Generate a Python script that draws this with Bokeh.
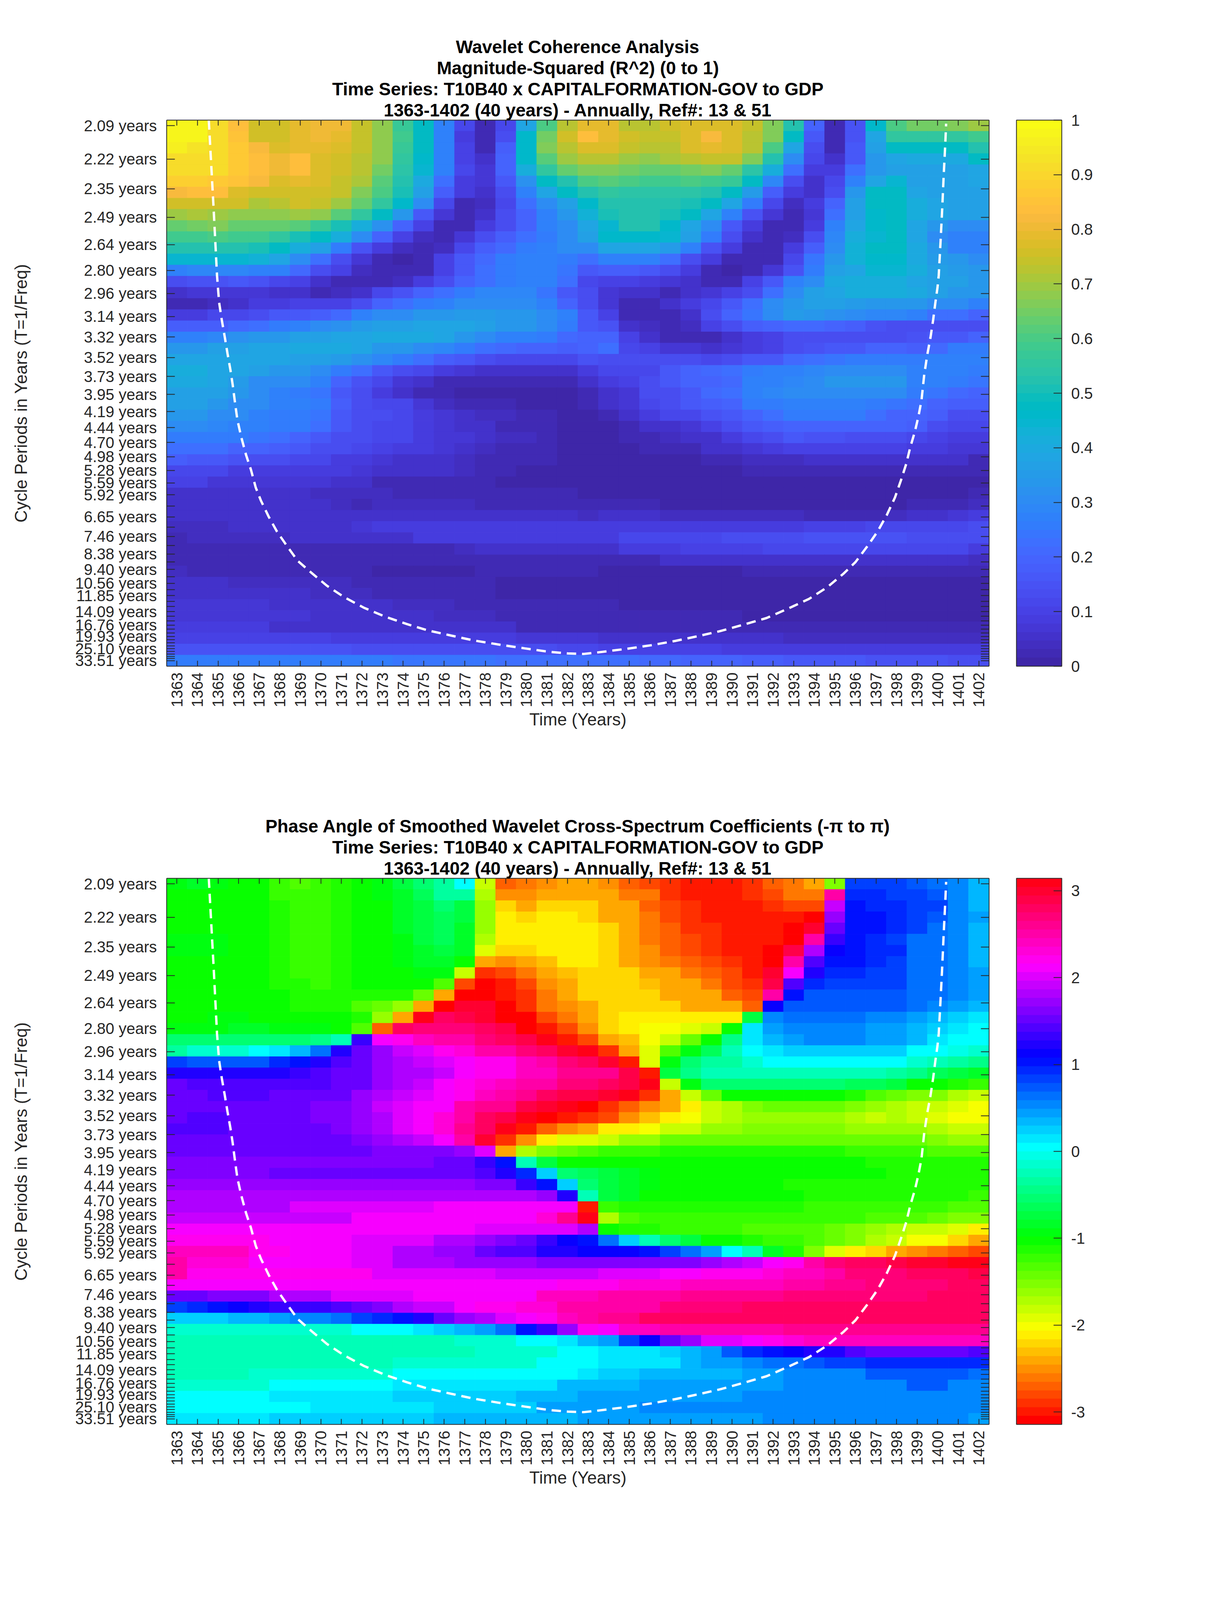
import math
from bokeh.embed import file_html
from bokeh.resources import INLINE
from bokeh.plotting import figure
from bokeh.layouts import column
from bokeh.models import (ColumnDataSource, LinearColorMapper, ColorBar, FixedTicker, LinearAxis,
                          Range1d, Title, AllLabels)
from bokeh.transform import transform

# NOTE: the reference is 3125x6252, but the browser that photographs this page reports a
# 3125x4096 window. The vertical layout is therefore compressed by 4096/6252 so that the whole
# chart stays visible; horizontal positions are those of the reference.

years = list(range(1363, 1403))
periods = [2.09, 2.22, 2.35, 2.49, 2.64, 2.80, 2.96, 3.14, 3.32, 3.52, 3.73, 3.95, 4.19, 4.44, 4.70, 4.98,
           5.28, 5.59, 5.92, 6.27, 6.65, 7.05, 7.46, 7.91, 8.38, 8.88, 9.40, 9.97, 10.56, 11.19, 11.85, 12.56,
           13.30, 14.09, 14.93, 15.82, 16.76, 17.76, 18.81, 19.93, 21.11, 22.37, 23.70, 25.10, 26.60, 28.18,
           29.85, 31.63, 33.51]
labelled_periods = [2.09, 2.22, 2.35, 2.49, 2.64, 2.80, 2.96, 3.14, 3.32, 3.52, 3.73, 3.95, 4.19, 4.44, 4.70,
                    4.98, 5.28, 5.59, 5.92, 6.65, 7.46, 8.38, 9.40, 10.56, 11.85, 14.09, 16.76, 19.93, 25.10, 33.51]

# coherence, in hundredths; one list per row, shortest period first
coh_rows = [
[97,97,91,83,75,75,79,81,80,74,68,57,47,27,11,3,11,38,60,73,79,79,73,72,75,77,78,78,74,66,53,20,3,15,46,60,65,65,67,69],
[97,97,91,85,75,75,79,80,79,74,68,58,47,28,8,3,13,46,65,76,83,79,75,74,74,77,82,78,73,66,47,17,3,15,39,56,56,56,56,58],
[96,93,91,87,82,78,79,79,77,74,68,57,47,28,10,3,18,46,66,73,78,77,74,73,73,77,79,77,72,60,38,13,3,16,37,47,47,47,48,52],
[92,92,91,86,83,81,83,78,76,73,68,56,46,28,10,5,20,46,62,70,72,73,69,68,71,72,74,74,66,52,30,12,5,17,33,38,40,40,40,47],
[91,91,91,87,83,81,83,78,75,72,65,54,44,28,12,7,20,42,55,63,66,67,65,63,63,65,66,64,54,42,22,9,9,22,33,37,36,36,36,38],
[88,88,87,85,82,78,79,78,74,71,62,52,40,22,9,7,17,32,47,53,60,61,60,58,58,60,59,57,47,29,14,5,11,28,39,45,37,37,37,38],
[82,84,84,77,76,75,75,75,74,67,60,50,36,18,8,6,14,27,38,47,53,55,54,54,54,54,53,47,35,18,9,5,14,33,47,47,38,37,36,37],
[76,76,76,75,71,73,75,74,70,63,55,46,30,12,3,4,12,23,30,37,46,52,53,53,53,50,47,39,25,12,4,8,19,36,47,47,42,38,37,37],
[70,71,70,68,68,68,69,68,62,55,47,33,17,7,2,5,13,20,27,33,43,50,53,53,50,48,39,28,15,7,3,7,23,36,46,48,42,38,37,37],
[64,65,66,64,63,63,62,57,51,42,32,19,10,3,3,8,14,20,27,31,38,45,53,53,46,38,30,17,9,3,3,9,27,38,46,47,38,33,30,30],
[58,58,60,59,58,55,51,47,41,30,20,10,4,3,7,14,18,22,26,30,36,46,46,46,45,37,25,13,6,2,4,14,29,42,45,47,38,31,28,28],
[53,53,53,52,50,47,42,36,26,15,9,4,2,4,12,18,21,25,27,30,30,38,39,39,35,28,15,9,3,2,8,18,30,43,47,47,40,33,28,28],
[44,44,45,45,43,38,30,22,13,7,3,1,3,10,16,21,25,28,27,26,23,27,28,27,23,14,8,2,2,3,12,24,33,43,46,46,40,35,33,30],
[28,29,29,29,28,27,21,14,10,4,3,2,3,10,17,22,26,28,28,24,17,18,18,17,14,8,3,1,3,7,15,26,36,38,44,44,41,37,35,33],
[14,15,15,17,15,11,10,6,3,2,2,4,9,13,20,23,26,28,28,22,11,10,10,9,7,5,3,3,10,16,28,31,40,41,42,41,39,37,37,34],
[5,7,7,7,7,6,5,3,4,6,11,15,19,23,26,29,29,29,24,17,13,7,5,5,3,5,7,10,14,23,30,36,38,41,42,42,40,36,34,34],
[2,3,4,5,8,8,10,10,10,13,20,22,26,28,30,31,31,30,27,20,14,7,3,2,5,8,12,17,23,31,34,36,37,35,34,33,33,31,30,28],
[9,9,11,12,14,16,16,18,21,27,30,31,33,34,35,35,34,34,30,27,17,10,3,2,3,6,13,19,24,31,35,34,32,30,29,29,28,22,22,20],
[18,18,18,21,22,25,28,30,32,35,36,37,38,39,39,37,34,33,30,25,17,15,5,4,2,4,10,14,18,20,21,21,20,18,15,13,13,13,13,13],
[28,28,29,32,33,34,37,37,39,39,40,40,40,39,33,30,28,27,26,21,20,20,10,6,2,2,2,6,9,10,13,14,14,14,13,13,15,16,17,20],
[34,34,36,36,38,39,40,40,40,39,34,33,30,29,26,23,21,20,19,18,20,22,12,10,7,7,6,7,9,10,13,15,16,17,19,19,18,21,25,26],
[39,39,39,39,38,38,37,37,35,32,29,25,22,18,16,14,12,12,11,11,15,13,13,13,13,13,12,14,17,17,21,22,24,26,26,26,26,27,27,27],
[41,41,39,38,37,34,33,31,26,22,17,13,11,9,7,6,6,6,5,6,8,11,12,12,16,19,21,22,26,27,28,29,30,30,30,30,28,28,27,26],
[40,40,39,35,31,30,30,28,20,15,11,7,6,3,2,2,2,2,2,3,5,8,10,13,16,19,20,21,27,28,29,30,33,33,33,33,28,28,26,24],
[37,37,36,33,31,27,25,24,16,13,8,5,3,2,1,1,1,1,1,1,3,6,7,13,14,17,21,22,28,29,30,31,30,30,31,31,26,24,21,20],
[36,36,34,31,30,27,27,26,18,14,12,11,7,4,3,2,2,1,1,1,2,5,7,11,13,16,18,20,26,26,27,28,28,27,25,24,22,20,18,18],
[34,34,31,30,28,26,25,24,17,14,13,11,9,7,5,4,4,3,3,1,1,3,5,8,11,12,15,17,20,22,25,26,26,25,22,20,20,18,14,14],
[30,30,29,28,27,26,25,22,17,14,12,11,9,7,5,5,3,3,2,1,1,1,3,5,6,7,10,13,16,18,20,20,20,20,20,19,18,14,11,11],
[26,26,26,25,24,23,20,17,14,13,12,11,9,7,7,5,4,4,2,1,1,1,2,3,4,5,6,9,12,14,16,15,15,14,13,13,12,10,9,8],
[22,22,22,20,19,18,16,14,13,12,10,9,8,7,5,4,3,3,2,1,1,1,1,2,2,2,5,6,7,9,10,10,10,10,10,10,9,8,7,7],
[18,16,16,15,14,13,12,11,9,8,7,6,5,5,4,3,2,2,2,1,1,1,1,1,1,1,3,3,4,4,4,5,5,5,5,5,5,5,5,3],
[11,11,11,9,9,9,8,8,8,7,5,5,5,5,4,3,2,1,1,1,1,1,1,1,1,1,1,1,2,2,2,2,2,2,2,2,2,2,2,2],
[10,10,7,7,7,7,7,7,5,5,3,3,3,3,2,2,1,1,1,1,1,1,1,1,1,1,1,1,1,1,1,1,1,1,1,1,1,1,1,1],
[6,6,6,6,6,6,5,4,4,4,4,3,3,3,3,3,3,3,2,2,1,1,1,1,1,1,1,1,1,1,1,1,1,1,1,1,1,1,1,2],
[5,5,5,5,5,5,5,5,4,3,4,4,4,4,4,3,3,3,3,3,2,2,2,2,1,1,1,1,1,1,1,1,1,1,1,1,2,2,2,4],
[6,6,6,6,6,6,6,6,6,6,6,6,6,6,6,6,6,6,5,5,4,5,5,5,4,4,4,4,4,4,4,3,3,3,3,4,5,6,7,8],
[4,4,4,6,6,6,6,6,6,7,8,8,8,8,8,8,8,8,8,8,8,8,8,8,8,8,8,9,9,9,9,10,10,10,12,12,12,12,12,14],
[2,4,4,4,4,4,5,5,5,5,5,5,8,8,8,8,8,8,9,9,9,9,11,11,11,12,12,13,13,14,14,15,15,15,15,15,14,14,14,14],
[3,3,3,3,3,3,3,3,3,3,3,3,3,3,4,5,5,5,5,5,6,6,8,8,8,10,10,10,10,11,11,11,12,12,12,12,12,12,11,9],
[3,3,3,3,3,3,2,2,2,2,2,2,2,2,2,2,2,2,2,2,2,2,3,3,5,5,5,5,5,5,5,5,5,5,5,5,5,5,5,4],
[4,3,3,3,3,3,3,2,2,2,1,1,1,1,1,2,2,2,2,2,2,1,1,1,1,1,1,1,2,2,2,2,2,2,2,2,2,2,2,2],
[5,5,5,4,4,4,4,4,4,3,3,2,2,2,2,2,1,1,1,1,1,1,1,1,1,1,1,1,1,1,1,1,1,1,1,1,1,1,1,1],
[5,5,5,5,5,5,5,4,4,4,3,3,3,2,2,2,1,1,1,1,1,1,1,1,1,1,1,1,1,1,1,1,1,1,1,1,1,1,1,1],
[7,7,7,7,7,5,5,5,5,5,5,4,4,4,3,3,3,3,2,2,2,3,1,1,1,1,1,1,1,1,1,1,1,1,1,1,1,1,1,1],
[7,7,7,7,7,7,7,5,5,5,5,5,5,4,4,4,3,3,3,3,3,2,2,2,2,2,2,2,1,1,1,1,1,1,1,1,1,1,1,1],
[8,8,8,8,8,6,6,6,6,6,6,5,5,5,5,5,5,3,3,3,3,2,2,2,2,2,2,3,3,3,2,2,2,2,2,2,2,2,2,2],
[10,10,10,10,10,10,10,10,9,9,9,9,9,9,9,9,9,7,7,7,7,6,6,6,6,5,5,5,5,5,4,4,4,4,4,4,4,4,4,4],
[15,15,15,15,15,15,15,15,15,14,14,14,14,14,14,14,13,13,13,12,12,10,10,10,10,10,10,9,9,9,9,9,9,8,8,8,8,8,8,8],
[26,26,26,26,26,26,26,26,25,25,25,24,24,24,24,24,23,23,23,22,22,22,22,21,21,20,19,19,18,18,17,17,16,16,15,15,15,15,14,14],
]

# phase angle, in hundredths of a radian; one list per row, shortest period first
phase_rows = [
[-95,-87,-90,-105,-105,-118,-131,-120,-110,-105,-95,-70,-52,-30,0,-185,-272,-262,-250,-240,-240,-248,-270,-278,-285,-295,-295,-295,-285,-269,-258,-236,-157,79,79,79,70,60,52,39],
[-100,-100,-105,-105,-105,-118,-118,-118,-110,-105,-95,-80,-60,-35,-35,-170,-248,-248,-236,-236,-236,-245,-257,-265,-285,-295,-295,-295,-285,-277,-262,-257,250,90,90,80,80,75,52,39],
[-105,-105,-105,-105,-105,-115,-125,-125,-115,-105,-105,-85,-70,-55,-70,-165,-225,-236,-225,-225,-225,-236,-242,-270,-280,-288,-295,-295,-295,-285,-275,-275,195,100,90,90,80,80,52,39],
[-105,-105,-105,-105,-105,-115,-125,-125,-115,-105,-105,-85,-70,-60,-75,-165,-212,-225,-213,-213,-225,-236,-242,-256,-280,-288,-295,-295,-295,-295,-295,-314,175,105,105,95,80,70,52,45],
[-100,-100,-105,-105,-105,-115,-125,-125,-115,-105,-105,-85,-75,-65,-80,-165,-212,-212,-212,-212,-212,-225,-236,-256,-270,-292,-292,-297,-297,-297,-305,295,157,105,100,95,80,62,52,35],
[-90,-90,-95,-105,-105,-115,-120,-120,-115,-105,-105,-92,-75,-68,-80,-170,-212,-212,-212,-212,-212,-225,-236,-256,-270,-280,-288,-295,-295,-300,-310,250,135,105,90,80,62,62,52,35],
[-90,-90,-95,-100,-105,-115,-120,-120,-115,-105,-105,-95,-80,-70,-80,-195,-225,-225,-213,-213,-212,-225,-236,-250,-270,-280,-288,-297,-297,-305,290,185,115,100,90,90,62,62,52,35],
[-100,-100,-100,-105,-105,-115,-120,-120,-115,-105,-100,-95,-88,-82,-105,-240,-255,-240,-228,-213,-213,-225,-240,-248,-262,-270,-278,-288,-297,-314,255,140,105,100,90,80,62,62,52,35],
[-105,-105,-105,-105,-105,-115,-125,-125,-115,-105,-105,-100,-95,-95,-185,-288,-275,-260,-242,-230,-225,-225,-225,-236,-245,-256,-270,-280,-297,300,209,120,90,90,80,80,62,62,52,40],
[-105,-105,-105,-105,-105,-110,-115,-125,-115,-105,-105,-105,-105,-135,-275,-305,-297,-275,-250,-236,-225,-225,-225,-230,-245,-245,-256,-275,-285,290,145,90,80,80,80,80,62,62,52,42],
[-105,-105,-105,-105,-105,-105,-115,-115,-115,-110,-110,-110,-145,-245,-307,-314,-297,-285,-256,-236,-225,-225,-225,-225,-236,-245,-245,-270,-280,250,100,75,75,70,70,70,62,62,52,42],
[-105,-105,-105,-105,-105,-105,-110,-110,-110,-128,-140,-165,-236,-314,298,298,-305,-285,-265,-250,-236,-225,-225,-225,-225,-236,-236,-245,-270,110,75,70,70,70,70,70,62,57,45,32],
[-100,-100,-95,-95,-100,-105,-105,-105,-105,-115,-160,-245,305,275,288,295,-314,-305,-275,-256,-236,-225,-213,-213,-213,-213,-213,-213,-75,57,62,62,62,62,55,55,45,36,28,18],
[-95,-95,-90,-85,-85,-95,-95,-95,-100,-130,-270,275,270,270,270,275,285,-314,-297,-275,-250,-225,-213,-200,-200,-195,-180,-105,10,40,57,57,57,57,45,45,38,25,18,5],
[-55,-55,-50,-50,-50,-50,-50,-45,-26,135,209,220,236,250,255,270,275,288,310,-300,-275,-245,-228,-205,-180,-140,-105,-40,10,30,42,50,50,50,42,42,32,18,8,0],
[-30,-18,-18,-10,0,15,30,62,120,150,175,190,205,220,230,250,255,270,280,295,314,-288,-245,-195,-135,-90,-60,-26,0,18,28,28,28,28,28,20,5,0,-7,-18],
[80,72,72,72,72,95,105,120,140,150,170,180,190,205,212,220,225,240,255,270,275,295,-300,-195,-95,-50,-30,-30,-15,0,8,8,8,8,8,0,-15,-20,-30,-40],
[125,125,118,118,118,118,130,138,148,157,172,180,185,190,209,220,225,236,245,260,265,265,288,-300,-70,-40,-26,-26,-20,-20,-20,-20,-20,-20,-20,-30,-45,-60,-75,-80],
[150,142,142,142,142,142,142,145,150,155,170,178,192,209,220,230,236,250,252,270,270,280,288,314,-185,-90,-55,-55,-55,-55,-55,-55,-55,-60,-68,-72,-105,-105,-110,-125],
[150,150,142,142,142,150,150,150,157,170,178,192,200,209,225,240,250,265,280,290,290,300,314,-285,-245,-180,-138,-105,-105,-105,-105,-105,-105,-115,-130,-138,-150,-157,-170,-178],
[155,155,155,155,155,155,155,160,160,170,195,200,209,215,255,260,265,285,295,310,-305,-288,-268,-255,-236,-209,-180,-168,-150,-142,-140,-140,-140,-148,-162,-170,-180,-185,-195,-200],
[155,145,145,155,155,155,155,160,162,170,182,200,209,230,255,275,288,305,-314,-295,-285,-275,-250,-230,-209,-197,-180,-172,-165,-165,-165,-165,-165,-172,-180,-172,-185,-192,-197,-205],
[140,140,140,152,152,152,152,152,165,170,180,200,209,230,260,280,305,-295,-270,-255,-240,-215,-209,-200,-185,-178,-165,-165,-150,-150,-150,-150,-150,-162,-162,-162,-162,-172,-185,-185],
[152,152,152,152,152,152,152,152,152,165,168,178,192,209,255,295,-285,-250,-209,-195,-190,-178,-165,-158,-142,-138,-138,-138,-138,-138,-138,-138,-138,-138,-142,-142,-145,-157,-160,-160],
[150,150,150,150,150,150,150,150,150,150,165,165,165,165,172,200,-236,-172,-150,-138,-130,-122,-122,-122,-115,-112,-112,-112,-112,-112,-112,-112,-112,-120,-120,-122,-125,-130,-130,-130],
[160,160,160,160,160,160,160,160,160,160,160,160,160,148,148,130,105,-26,-75,-105,-102,-100,-100,-102,-102,-102,-102,-102,-102,-102,-102,-102,-102,-105,-108,-108,-112,-112,-115,-115],
[160,160,160,160,160,152,152,152,152,152,152,152,152,152,152,142,125,95,20,-50,-68,-72,-85,-90,-100,-100,-100,-100,-100,-100,-100,-100,-100,-105,-105,-110,-110,-110,-115,-115],
[168,168,168,168,168,168,168,168,168,168,168,168,168,168,168,165,160,130,105,20,-55,-72,-80,-95,-100,-100,-100,-100,-105,-105,-110,-110,-110,-110,-112,-115,-115,-115,-115,-115],
[178,178,178,178,178,178,178,178,178,178,178,178,178,178,178,178,178,178,172,122,-25,-72,-85,-100,-102,-102,-102,-105,-105,-105,-105,-110,-110,-110,-110,-112,-115,-115,-115,-122],
[185,185,185,185,185,185,200,200,200,200,200,200,200,209,209,209,209,209,209,209,-298,-120,-115,-115,-115,-115,-115,-115,-115,-115,-115,-120,-120,-120,-120,-120,-125,-125,-130,-135],
[192,192,192,192,192,192,192,192,192,209,209,209,209,209,209,209,209,209,230,260,305,-175,-130,-118,-118,-118,-118,-118,-118,-120,-125,-125,-125,-125,-130,-130,-135,-140,-150,-155],
[212,212,212,212,212,212,212,212,212,212,212,212,212,212,212,200,200,200,200,200,185,-105,-110,-110,-120,-120,-120,-120,-130,-132,-132,-135,-142,-155,-158,-172,-182,-185,-195,-212],
[220,220,220,220,220,210,210,210,210,200,200,200,200,185,185,175,165,155,135,115,105,62,20,-26,-55,-72,-100,-102,-110,-120,-125,-130,-145,-155,-175,-185,-198,-205,-220,-240],
[240,240,240,240,220,220,210,210,210,198,198,185,185,175,170,155,145,140,125,120,115,115,112,105,88,62,45,8,-25,-80,-110,-150,-192,-208,-220,-242,-250,-258,-270,-280],
[250,235,235,235,215,215,215,215,215,198,198,185,185,185,170,170,170,170,160,160,160,160,160,160,160,160,170,180,195,209,225,250,270,275,280,288,300,302,305,314],
[250,220,220,220,220,220,220,220,220,220,200,200,200,200,200,200,190,190,190,190,195,198,198,198,208,208,218,218,218,230,240,240,250,268,268,268,282,282,282,290],
[215,215,215,215,215,215,215,215,215,215,215,215,215,215,215,215,215,215,215,220,220,220,228,228,228,240,240,240,240,240,250,250,260,260,272,272,272,272,280,280],
[155,155,165,165,165,180,180,180,198,198,198,198,210,210,210,210,210,210,242,242,242,255,255,255,255,262,262,262,262,262,272,272,272,272,272,272,272,275,275,275],
[88,95,105,110,120,128,128,135,142,155,165,178,192,192,208,222,222,235,235,250,250,255,255,255,268,268,268,268,275,275,275,275,275,280,280,280,280,280,280,280],
[20,20,20,30,30,42,52,52,62,80,95,105,118,148,168,178,205,210,225,245,255,260,260,275,275,275,275,275,278,278,278,278,278,278,278,278,278,278,278,278],
[-12,-12,-12,-12,-12,-12,-12,-12,-12,0,0,0,10,20,30,40,62,105,130,172,218,212,245,245,255,255,255,255,255,255,258,258,258,258,260,260,260,260,260,260],
[-28,-28,-28,-28,-28,-28,-28,-28,-28,-28,-28,-28,-28,-28,-15,-15,-15,0,0,15,30,45,80,112,148,175,198,205,215,225,230,240,240,240,240,240,240,240,240,240],
[-28,-28,-28,-28,-28,-28,-28,-28,-28,-28,-28,-28,-28,-28,-28,-15,-15,-15,-15,0,0,12,12,12,22,36,45,72,95,105,110,118,125,140,150,150,150,150,150,138],
[-28,-28,-28,-28,-28,-28,-28,-28,-28,-28,-28,-15,-15,-15,-15,-15,-15,-15,0,0,5,10,10,18,18,35,42,42,50,65,65,72,80,80,95,95,95,95,95,95],
[-25,-25,-25,-25,-12,-12,-12,-12,-12,-12,-12,0,0,0,0,0,0,8,8,8,18,20,20,30,30,30,38,38,45,45,50,55,55,55,72,72,72,72,72,60],
[-15,-15,-15,-15,-15,0,0,0,0,0,0,10,10,10,10,10,18,18,18,30,30,30,30,40,40,40,45,45,45,45,58,58,58,58,58,58,72,72,58,58],
[2,2,2,2,2,10,10,10,10,10,10,20,20,20,20,20,20,30,30,30,40,40,40,40,45,45,45,45,58,58,58,58,58,58,58,58,58,58,58,58],
[8,8,8,8,8,8,8,18,18,18,18,18,18,28,28,28,28,28,40,40,42,42,42,50,50,50,50,50,50,58,58,58,58,58,58,58,58,58,58,58],
[10,10,10,10,10,20,20,20,20,20,20,20,20,30,30,30,30,30,30,30,42,42,42,42,42,42,42,42,42,50,50,50,50,50,50,50,50,50,50,42],
]

# cone of influence: year, and position in rows of the scale grid
coi_year = [1364.55,1364.78,1364.95,1365.05,1365.18,1365.33,1365.46,1365.6,1365.71,1365.84,1365.94,1366.13,1366.36,1366.6,1366.83,
            1367.08,1367.46,1367.86,1368.35,1368.87,1369.53,1370.29,1371.15,1372.08,1373.12,1374.17,1375.21,1376.33,1377.47,1378.8,
            1379.92,1381.06,1382.01,1382.77,1383.3,1384.88,1386.06,1387.24,1388.32,1389.4,1390.58,1391.67,1392.75,1393.74,1394.63,
            1395.41,1396.0,1396.59,1397.08,1397.52,1397.92,1398.22,1398.47,1398.66,1398.89,1399.06,1399.21,1399.34,1399.49,1399.65,
            1399.78,1399.89,1399.99,1400.05,1400.14,1400.22,1400.29,1400.37,1400.41]
coi_row = [-0.48,7.28,13.44,15.83,17.41,19.0,20.44,21.89,23.22,25.06,26.39,27.95,29.53,30.87,32.45,
           33.62,35.07,36.4,37.71,39.04,40.1,41.27,42.32,43.24,44.05,44.71,45.29,45.75,46.2,46.6,
           46.9,47.2,47.35,47.4,47.3,46.94,46.62,46.23,45.81,45.36,44.76,44.18,43.31,42.46,41.41,
           40.21,39.16,37.71,36.4,34.95,33.37,31.78,30.34,28.89,27.45,26.11,24.67,22.42,20.58,19.0,
           17.41,15.83,14.52,13.44,10.36,7.42,4.51,1.57,-0.18]

coh_ticks = [0, 0.1, 0.2, 0.3, 0.4, 0.5, 0.6, 0.7, 0.8, 0.9, 1]
coh_tick_labels = ["0", "0.1", "0.2", "0.3", "0.4", "0.5", "0.6", "0.7", "0.8", "0.9", "1"]
phase_ticks = [-3, -2, -1, 0, 1, 2, 3]
phase_tick_labels = ["-3", "-2", "-1", "0", "1", "2", "3"]

coh_title = ["Wavelet Coherence Analysis", "Magnitude-Squared (R^2) (0 to 1)",
             "Time Series: T10B40 x CAPITALFORMATION-GOV to GDP",
             "1363-1402 (40 years) - Annually, Ref#: 13 & 51"]
phase_title = ["Phase Angle of Smoothed Wavelet Cross-Spectrum Coefficients (-\u03c0 to \u03c0)",
               "Time Series: T10B40 x CAPITALFORMATION-GOV to GDP",
               "1363-1402 (40 years) - Annually, Ref#: 13 & 51"]

parula = [(0.2422,0.1504,0.6603),(0.2504,0.1650,0.7076),(0.2578,0.1818,0.7511),(0.2647,0.1978,0.7952),(0.2706,0.2147,0.8364),
(0.2751,0.2342,0.8710),(0.2783,0.2559,0.8991),(0.2803,0.2782,0.9221),(0.2813,0.3006,0.9414),(0.2810,0.3228,0.9579),
(0.2795,0.3447,0.9717),(0.2760,0.3667,0.9829),(0.2699,0.3892,0.9906),(0.2602,0.4123,0.9952),(0.2440,0.4358,0.9988),
(0.2206,0.4603,0.9973),(0.1963,0.4847,0.9892),(0.1834,0.5074,0.9798),(0.1786,0.5289,0.9682),(0.1764,0.5499,0.9520),
(0.1687,0.5703,0.9359),(0.1540,0.5902,0.9218),(0.1460,0.6091,0.9079),(0.1380,0.6276,0.8973),(0.1248,0.6459,0.8883),
(0.1113,0.6635,0.8763),(0.0952,0.6798,0.8598),(0.0689,0.6948,0.8394),(0.0297,0.7082,0.8163),(0.0036,0.7203,0.7917),
(0.0067,0.7312,0.7660),(0.0433,0.7411,0.7394),(0.0964,0.7500,0.7120),(0.1408,0.7584,0.6842),(0.1717,0.7670,0.6554),
(0.1938,0.7758,0.6251),(0.2161,0.7843,0.5923),(0.2470,0.7918,0.5567),(0.2906,0.7973,0.5188),(0.3406,0.8008,0.4789),
(0.3909,0.8029,0.4354),(0.4456,0.8024,0.3909),(0.5044,0.7993,0.3480),(0.5616,0.7942,0.3045),(0.6174,0.7876,0.2612),
(0.6720,0.7793,0.2227),(0.7242,0.7698,0.1910),(0.7738,0.7598,0.1646),(0.8203,0.7498,0.1535),(0.8634,0.7406,0.1596),
(0.9035,0.7330,0.1774),(0.9393,0.7288,0.2100),(0.9728,0.7298,0.2394),(0.9956,0.7434,0.2371),(0.9970,0.7659,0.2199),
(0.9952,0.7893,0.2028),(0.9892,0.8136,0.1885),(0.9786,0.8386,0.1766),(0.9676,0.8639,0.1643),(0.9610,0.8890,0.1537),
(0.9597,0.9135,0.1423),(0.9628,0.9373,0.1265),(0.9691,0.9606,0.1064),(0.9769,0.9839,0.0805)]
parula_hex = ["#%02x%02x%02x" % tuple(round(c * 255) for c in rgb) for rgb in parula]


def hsv_palette(n):
    out = []
    for i in range(n):
        h = 6.0 * i / n
        k = int(h)
        f = h - k
        r, g, b = [(1, f, 0), (1 - f, 1, 0), (0, 1, f), (0, 1 - f, 1), (f, 0, 1), (1, 0, 1 - f)][k]
        out.append("#%02x%02x%02x" % (round(r * 255), round(g * 255), round(b * 255)))
    return out


FONT = "Liberation Sans"
INK = "#262626"
TICK_FS = "40px"
LABEL_FS = "44px"
TITLE_FS = "46px"
FRAME_W, FRAME_H = 2105, 1398
F0, FN = 1 / periods[0], 1 / periods[-1]


def tick_row(p):
    return 48 * (F0 - 1 / p) / (F0 - FN)


def style_axis(ax, tick_len):
    ax.axis_line_color = INK
    ax.axis_line_width = 2
    ax.major_tick_line_color = INK
    ax.major_tick_line_width = 2
    ax.major_tick_in = tick_len
    ax.major_tick_out = 0
    ax.minor_tick_line_color = None
    ax.major_label_text_font = FONT
    ax.major_label_text_font_size = TICK_FS
    ax.major_label_text_color = INK
    ax.axis_label_text_font = FONT
    ax.axis_label_text_font_size = LABEL_FS
    ax.axis_label_text_font_style = "normal"
    ax.axis_label_text_color = INK
    ax.major_label_policy = AllLabels()


def panel(rows, scale, palette, low, high, titles, cb_ticks, cb_labels, border_top, border_bottom, total_h):
    for i, r in enumerate(rows):
        if len(r) != len(years):
            raise ValueError("row %d has %d values" % (i, len(r)))
    xs, ys, vs = [], [], []
    for i, r in enumerate(rows):
        for j, v in enumerate(r):
            xs.append(years[j])
            ys.append(i)
            vs.append(v * scale)
    mapper = LinearColorMapper(palette=palette, low=low, high=high)
    p = figure(width=3100, height=total_h, output_backend="svg", toolbar_location=None, title=None,
               x_range=Range1d(1362.5, 1402.5), y_range=Range1d(48.5, -0.5),
               x_axis_location=None, y_axis_location=None,
               min_border_left=426, min_border_top=border_top, min_border_bottom=border_bottom, min_border_right=100,
               frame_width=FRAME_W, frame_height=FRAME_H, outline_line_color=None,
               background_fill_color="white", border_fill_color="white")
    p.grid.visible = False
    src = ColumnDataSource(dict(x=xs, y=ys, v=vs))
    p.rect("x", "y", width=1, height=1, source=src, fill_color=transform("v", mapper),
           line_color=transform("v", mapper), line_width=1)
    p.line(coi_year, coi_row, line_color="white", line_width=6, line_dash="24 15")

    rows_t = [tick_row(q) for q in periods]
    names = {tick_row(q): ("%.2f years" % q if q in labelled_periods else "") for q in periods}

    left = LinearAxis(ticker=FixedTicker(ticks=rows_t), major_label_overrides=names,
                      axis_label="Cycle Periods in Years (T=1/Freq)")
    style_axis(left, 21)
    left.major_label_standoff = 25
    left.axis_label_standoff = 111
    p.add_layout(left, "left")

    right = LinearAxis(ticker=FixedTicker(ticks=rows_t), major_label_overrides={t: "" for t in rows_t},
                       axis_label="\u00a0")
    style_axis(right, 21)
    right.major_label_standoff = 0
    right.axis_label_text_font_size = "10px"
    right.axis_label_standoff = 56
    p.add_layout(right, "right")

    bottom = LinearAxis(ticker=FixedTicker(ticks=years), major_label_overrides={y: str(y) for y in years},
                        axis_label="Time (Years)")
    style_axis(bottom, 14)
    bottom.major_label_orientation = math.pi / 2
    bottom.major_label_standoff = 16
    bottom.axis_label_standoff = 4
    p.add_layout(bottom, "below")

    top = LinearAxis(ticker=FixedTicker(ticks=years), major_label_overrides={y: "" for y in years})
    style_axis(top, 14)
    top.major_label_standoff = 0
    p.add_layout(top, "above")

    for line in reversed(titles):
        p.add_layout(Title(text=line, align="center", text_font=FONT, text_font_style="bold",
                           text_font_size=TITLE_FS, text_color="black", standoff=0), "above")

    cb = ColorBar(color_mapper=mapper, ticker=FixedTicker(ticks=cb_ticks),
                  major_label_overrides=dict(zip(cb_ticks, cb_labels)),
                  width=116, height=FRAME_H, major_tick_in=21, major_tick_out=0,
                  major_tick_line_color=INK, major_tick_line_width=2, minor_tick_line_color=None,
                  bar_line_color=INK, bar_line_width=2, major_label_text_font=FONT,
                  major_label_text_font_size=TICK_FS, major_label_text_color=INK, label_standoff=24,
                  padding=0, margin=0, background_fill_alpha=0, border_line_color=None)
    p.add_layout(cb, "right")
    return p


p1 = panel(coh_rows, 0.01, parula_hex, 0, 1, coh_title, coh_ticks, coh_tick_labels, 307, 255, 1960)
p2 = panel(phase_rows, 0.01, hsv_palette(64), -math.pi, math.pi, phase_title, phase_ticks, phase_tick_labels, 288, 442, 2128)

layout = column(p1, p2, spacing=0)
open("out.html", "w").write(file_html(layout, INLINE))
